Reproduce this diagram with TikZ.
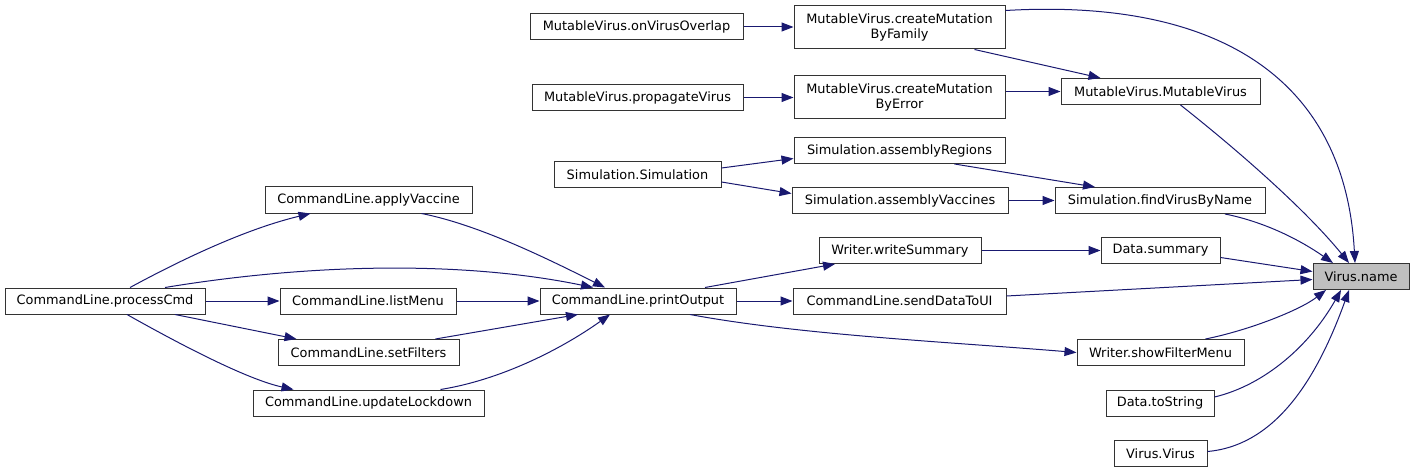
\documentclass[tikz,border=0pt]{standalone}
\usepackage{fontspec}
\setmainfont{DejaVu Sans}
\usetikzlibrary{arrows.meta}
\definecolor{edgeblue}{HTML}{191970}
\definecolor{boxline}{HTML}{333333}
\definecolor{hilite}{HTML}{BFBFBF}
\tikzset{
  fn/.style={draw=boxline, line width=1pt, fill=white, inner sep=0pt, minimum height=26pt,
    font=\fontsize{12.9pt}{15pt}\selectfont, align=center},
  fn2/.style={fn, minimum height=43pt},
  callee/.style={fn, fill=hilite},
  call/.style={draw=edgeblue, line width=1pt, -{Triangle[length=12pt,width=9pt]}, color=edgeblue},
}
\begin{document}
\begin{tikzpicture}[x=1pt,y=-1pt]
\useasboundingbox (0,0) rectangle (1415,473);
% nodes
\node[fn, minimum width=213pt] (ovl) at (636.5,27) {MutableVirus.onVirusOverlap};
\node[fn2, minimum width=211pt] (cmf) at (899.5,27.5) {MutableVirus.createMutation\\ByFamily};
\node[fn, minimum width=211pt] (prop) at (637.5,97.5) {MutableVirus.propagateVirus};
\node[fn2, minimum width=211pt] (cme) at (899.5,97.5) {MutableVirus.createMutation\\ByError};
\node[fn, minimum width=199pt] (mv) at (1160.5,91.5) {MutableVirus.MutableVirus};
\node[fn, minimum width=167pt] (sim) at (637.5,175) {Simulation.Simulation};
\node[fn, minimum width=211pt] (asr) at (899.5,150.5) {Simulation.assemblyRegions};
\node[fn, minimum width=216pt] (asv) at (900,200.5) {Simulation.assemblyVaccines};
\node[fn, minimum width=210pt] (fvn) at (1160,200.5) {Simulation.findVirusByName};
\node[fn, minimum width=207pt] (apv) at (368.5,200) {CommandLine.applyVaccine};
\node[fn, minimum width=200pt] (pcmd) at (105,301) {CommandLine.processCmd};
\node[fn, minimum width=176pt] (lm) at (368,301) {CommandLine.listMenu};
\node[fn, minimum width=181pt] (sf) at (368.5,352.5) {CommandLine.setFilters};
\node[fn, minimum width=231pt] (ul) at (368.5,403) {CommandLine.updateLockdown};
\node[fn, minimum width=196pt] (po) at (638,301) {CommandLine.printOutput};
\node[fn, minimum width=162pt] (ws) at (900,250.5) {Writer.writeSummary};
\node[fn, minimum width=213pt] (sdu) at (899.5,301) {CommandLine.sendDataToUI};
\node[fn, minimum width=119pt] (ds) at (1160.5,250.5) {Data.summary};
\node[fn, minimum width=167pt] (sfm) at (1160.5,352.5) {Writer.showFilterMenu};
\node[fn, minimum width=108pt] (dts) at (1160,403) {Data.toString};
\node[fn, minimum width=93pt] (vv) at (1160.5,453.5) {Virus.Virus};
\node[callee, minimum width=96pt] (vn) at (1361,276.5) {Virus.name};
% edges: top group
\draw[call] (ovl.east) -- (cmf.west |- ovl.east);
\draw[call] (prop.east) -- (cme.west |- prop.east);
\draw[call] ([xshift=75pt]cmf.south) -- ([xshift=-60pt]mv.north);
\draw[call] ([yshift=17pt]cmf.east) .. controls (1220,-2) and (1345,80) .. ([xshift=-6pt]vn.north);
\draw[call] (cme.east |- mv.west) -- (mv.west);
\draw[call] ([xshift=20pt]mv.south) .. controls (1250,160) and (1310,215) .. ([xshift=-12pt]vn.north);
% simulation group
\draw[call] ([yshift=7pt]sim.east) -- ([yshift=-8pt]asr.west);
\draw[call] ([yshift=-7pt]sim.east) -- ([yshift=7pt]asv.west);
\draw[call] ([xshift=55pt]asr.south) -- ([xshift=-65pt]fvn.north);
\draw[call] (asv.east) -- (fvn.west |- asv.east);
\draw[call] ([xshift=65pt]fvn.south) .. controls (1265,222) and (1300,240) .. ([xshift=-28pt]vn.north);
% command line group
\draw[call] ([xshift=25pt]pcmd.north) .. controls (190,255) and (250,228) .. ([xshift=-58pt]apv.south);
\draw[call] ([xshift=60pt]pcmd.north) .. controls (320,262) and (470,262) .. ([xshift=-45pt]po.north);
\draw[call] (pcmd.east) -- (lm.west);
\draw[call] ([xshift=70pt]pcmd.south) -- ([xshift=-72pt]sf.north);
\draw[call] ([xshift=22pt]pcmd.south) .. controls (190,350) and (250,380) .. ([xshift=-75pt]ul.north);
\draw[call] ([xshift=53pt]apv.south) .. controls (480,225) and (550,260) .. ([xshift=-33pt]po.north);
\draw[call] (lm.east) -- (po.west);
\draw[call] ([xshift=67pt]sf.north) -- ([xshift=-60pt]po.south);
\draw[call] ([xshift=72pt]ul.north) .. controls (500,380) and (560,350) .. ([xshift=-28pt]po.south);
\draw[call] ([xshift=67pt]po.north) -- ([xshift=-65pt]ws.south);
\draw[call] (po.east) -- (sdu.west);
\draw[call] ([xshift=52pt]po.south) .. controls (800,335) and (950,342) .. (sfm.west);
% right group
\draw[call] (ws.east) -- (ds.west |- ws.east);
\draw[call] ([yshift=-7pt]ds.east) -- ([yshift=5pt]vn.west);
\draw[call] ([yshift=5pt]sdu.east) -- ([yshift=-3pt]vn.west);
\draw[call] ([xshift=45pt]sfm.north) .. controls (1250,330) and (1300,310) .. ([xshift=-35pt]vn.south);
\draw[call] ([yshift=6pt]dts.east) .. controls (1265,385) and (1310,345) .. ([xshift=-20pt]vn.south);
\draw[call] ([yshift=2pt]vv.east) .. controls (1280,445) and (1320,370) .. ([xshift=-12pt]vn.south);
\end{tikzpicture}
\end{document}
